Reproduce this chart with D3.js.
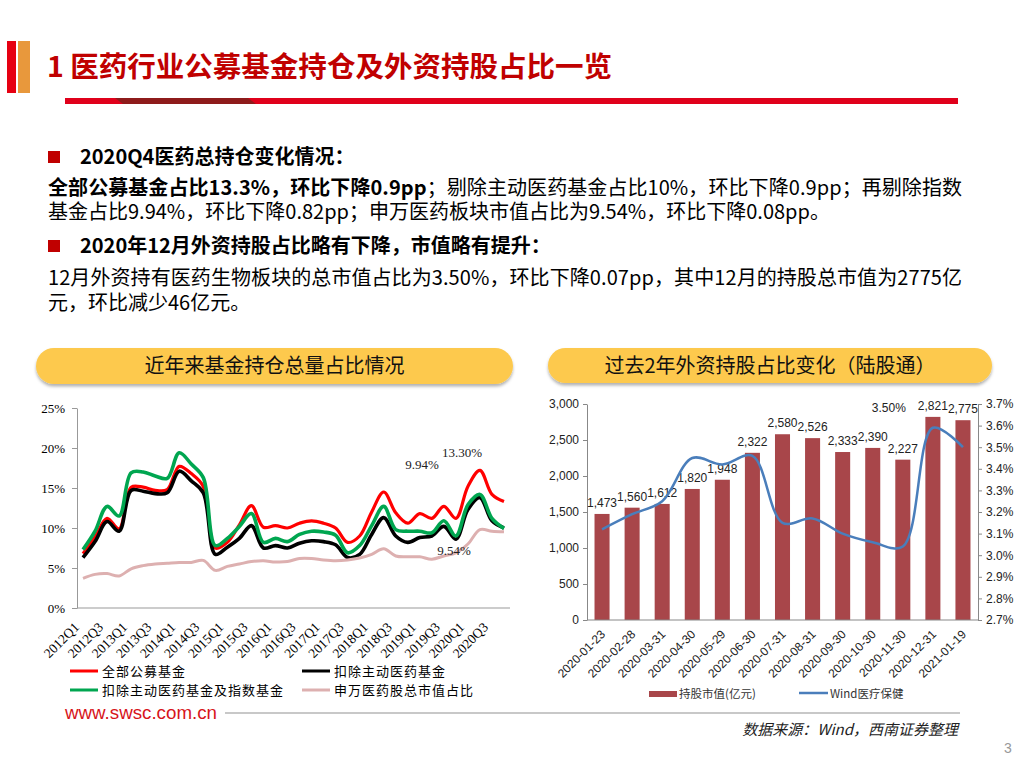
<!DOCTYPE html>
<html>
<head>
<meta charset="utf-8">
<script src="https://cdn.jsdelivr.net/npm/d3@7"></script>
<style>
  body { margin: 0; background: #fff; }
  svg { display: block; font-family: "Noto Sans CJK SC", "Noto Sans", sans-serif; }
</style>
</head>
<body>
<svg id="slide" width="1024" height="768"></svg>
<script>
// ---- left chart data (percent of holdings) ----
const quarters = ["2012Q1","2012Q2","2012Q3","2012Q4","2013Q1","2013Q2","2013Q3","2013Q4",
  "2014Q1","2014Q2","2014Q3","2014Q4","2015Q1","2015Q2","2015Q3","2015Q4",
  "2016Q1","2016Q2","2016Q3","2016Q4","2017Q1","2017Q2","2017Q3","2017Q4",
  "2018Q1","2018Q2","2018Q3","2018Q4","2019Q1","2019Q2","2019Q3","2019Q4",
  "2020Q1","2020Q2","2020Q3","2020Q4"];
const allFunds = [6.8,8.9,11.2,9.9,15.1,15.1,14.7,14.8,17.7,16.8,15.2,7.5,8.2,10.4,12.8,10.1,
  10.3,10.0,10.6,10.9,10.6,10.0,8.2,9.0,12.0,14.5,11.9,10.6,11.8,11.2,12.7,11.2,15.2,17.2,14.2,13.3];
const exActive = [6.3,8.3,10.8,9.6,14.7,14.6,14.3,14.4,17.1,15.9,14.4,6.7,7.6,8.7,10.3,7.5,
  7.8,7.5,8.1,8.4,8.3,7.9,6.3,6.7,9.2,11.3,9.0,8.2,8.8,9.0,10.2,8.6,12.3,13.8,10.9,10.0];
const exActiveIndex = [7.3,9.6,12.7,11.5,16.9,17.0,16.5,16.2,19.4,18.0,16.3,7.8,8.7,10.2,11.8,8.2,
  8.7,8.3,9.2,9.6,9.5,9.1,6.9,7.8,10.3,12.7,9.8,9.6,9.6,9.4,10.9,9.0,12.9,14.2,11.2,9.94];
const swPharma = [3.7,4.2,4.3,4.0,4.9,5.3,5.5,5.6,5.7,5.7,5.95,4.7,5.2,5.5,5.8,5.9,
  5.75,5.8,6.2,6.2,6.0,5.9,6.0,6.25,6.7,7.4,6.5,6.4,6.4,6.1,6.5,6.9,8.0,9.8,9.6,9.54];
const leftTicks = [0, 5, 10, 15, 20, 25];
const leftLabelQuarters = quarters.filter((q, i) => i % 2 === 0);

// ---- right chart data ----
const dates = ["2020-01-23","2020-02-28","2020-03-31","2020-04-30","2020-05-29","2020-06-30",
  "2020-07-31","2020-08-31","2020-09-30","2020-10-30","2020-11-30","2020-12-31","2021-01-19"];
const holdValue = [1473,1560,1612,1820,1948,2322,2580,2526,2333,2390,2227,2821,2775];
const windHealth = [3.12,3.19,3.25,3.45,3.42,3.46,3.15,3.17,3.10,3.06,3.04,3.59,3.50];
const valueTicks = [0,500,1000,1500,2000,2500,3000];
const pctTicks = [2.7,2.8,2.9,3.0,3.1,3.2,3.3,3.4,3.5,3.6,3.7];

const svg = d3.select("#slide");
const defs = svg.append("defs");
const sh = defs.append("filter").attr("id", "sh")
  .attr("x", "-5%").attr("y", "-30%").attr("width", "110%").attr("height", "180%");
sh.append("feDropShadow").attr("dx", 0).attr("dy", 2.5).attr("stdDeviation", 1.5)
  .attr("flood-color", "#000").attr("flood-opacity", 0.3);

// ---- slide header ----
svg.append("rect").attr("x", 7).attr("y", 41).attr("width", 9).attr("height", 52).attr("fill", "#E60012");
svg.append("rect").attr("x", 18).attr("y", 41).attr("width", 12).attr("height", 52).attr("fill", "#E8983C");
svg.append("text").attr("x", 47).attr("y", 77)
  .attr("font-size", 28).attr("font-weight", "bold").attr("fill", "#C00000")
  .attr("textLength", 565).attr("lengthAdjust", "spacingAndGlyphs")
  .text("1 医药行业公募基金持仓及外资持股占比一览");
svg.append("rect").attr("x", 65).attr("y", 98).attr("width", 893).attr("height", 6).attr("fill", "#E0001B");
svg.append("polygon").attr("points", "115,98 248,98 256,104 123,104").attr("fill", "#8E1B1B");

// ---- text block ----
function bullet(y) {
  svg.append("rect").attr("x", 48).attr("y", y - 6).attr("width", 12).attr("height", 12).attr("fill", "#C00000");
}
bullet(157);
svg.append("text").attr("x", 80).attr("y", 157).attr("dy", "0.36em")
  .attr("font-size", 20).attr("font-weight", "bold").text("2020Q4医药总持仓变化情况：");

const l2 = svg.append("text").attr("x", 48).attr("y", 188).attr("dy", "0.36em").attr("font-size", 20);
l2.append("tspan").attr("font-weight", "bold").text("全部公募基金占比13.3%，环比下降0.9pp");
l2.append("tspan").text("；剔除主动医药基金占比10%，环比下降0.9pp；再剔除指数");

svg.append("text").attr("x", 48).attr("y", 212).attr("dy", "0.36em").attr("font-size", 20)
  .text("基金占比9.94%，环比下降0.82pp；申万医药板块市值占比为9.54%，环比下降0.08pp。");

bullet(246);
svg.append("text").attr("x", 80).attr("y", 246).attr("dy", "0.36em")
  .attr("font-size", 20).attr("font-weight", "bold").text("2020年12月外资持股占比略有下降，市值略有提升：");

const l5 = svg.append("text").attr("x", 48).attr("y", 278).attr("dy", "0.36em").attr("font-size", 20)
  .text("12月外资持有医药生物板块的总市值占比为3.50%，环比下降0.07pp，其中12月的持股总市值为2775亿");
svg.append("text").attr("x", 48).attr("y", 303).attr("dy", "0.36em").attr("font-size", 20)
  .text("元，环比减少46亿元。");
[l2, l5].forEach(t => t.attr("textLength", 914).attr("lengthAdjust", "spacing"));

// ---- banners ----
function banner(x0, x1, y0, y1, label) {
  svg.append("rect").attr("x", x0).attr("y", y0).attr("width", x1 - x0).attr("height", y1 - y0)
    .attr("rx", (y1 - y0) / 2).attr("fill", "#FDC94D").attr("filter", "url(#sh)");
  svg.append("text").attr("x", (x0 + x1) / 2).attr("y", (y0 + y1) / 2).attr("dy", "0.36em")
    .attr("text-anchor", "middle").attr("font-size", 20).attr("fill", "#111").text(label);
}
banner(36, 513, 348, 384, "近年来基金持仓总量占比情况");
banner(548, 992, 348, 383, "过去2年外资持股占比变化（陆股通）");

// ---- left chart ----
const serif = "'Liberation Serif', 'Times New Roman', serif";
const lx = d3.scaleBand().domain(quarters).range([77, 510]);
const lcx = q => lx(q) + lx.bandwidth() / 2;
const ly = d3.scaleLinear().domain([0, 25]).range([608, 408]);

const yAxL = svg.append("g").attr("transform", "translate(77,0)")
  .call(d3.axisLeft(ly).tickValues(leftTicks).tickFormat(d => d + "%").tickSize(5).tickSizeOuter(0).tickPadding(7));
yAxL.selectAll("path,line").attr("stroke", "#999");
yAxL.selectAll("text").attr("font-family", serif).attr("font-size", 13).attr("fill", "#000");

svg.append("line").attr("x1", 77).attr("x2", 510).attr("y1", ly(0)).attr("y2", ly(0)).attr("stroke", "#999");
svg.append("g").selectAll("text").data(leftLabelQuarters).join("text")
  .attr("transform", d => `translate(${lcx(d) - 3},628) rotate(-45)`)
  .attr("text-anchor", "end").attr("font-family", serif).attr("font-size", 13.5).attr("fill", "#000")
  .text(d => d);

const qLine = d3.line().x((d, i) => lcx(quarters[i])).y(d => ly(d)).curve(d3.curveCatmullRom.alpha(0.5));
const leftSeries = [
  { name: "全部公募基金", values: allFunds, color: "#FF0000", w: 3.2 },
  { name: "扣除主动医药基金", values: exActive, color: "#000000", w: 3.6 },
  { name: "扣除主动医药基金及指数基金", values: exActiveIndex, color: "#00A650", w: 3.6 },
  { name: "申万医药股总市值占比", values: swPharma, color: "#DDB0B0", w: 3 }
];
svg.append("g").selectAll("path").data(leftSeries).join("path")
  .attr("d", s => qLine(s.values)).attr("fill", "none")
  .attr("stroke", s => s.color).attr("stroke-width", s => s.w).attr("stroke-linejoin", "round");

const last = quarters[quarters.length - 1];
function note(x, y, t) {
  svg.append("text").attr("x", x).attr("y", y).attr("dy", "0.35em").attr("text-anchor", "middle")
    .attr("font-family", serif).attr("font-size", 13).attr("fill", "#222").text(t);
}
note(lcx(last) - 42, ly(19.4), "13.30%");
note(lcx(last) - 82, ly(17.9), "9.94%");
note(lcx(last) - 50, ly(7.2), "9.54%");

// legend left
const legL = [
  { s: leftSeries[0], x: 70, y: 671 }, { s: leftSeries[1], x: 302, y: 671 },
  { s: leftSeries[2], x: 70, y: 690 }, { s: leftSeries[3], x: 302, y: 690 }
];
legL.forEach(d => {
  svg.append("line").attr("x1", d.x).attr("x2", d.x + 28).attr("y1", d.y).attr("y2", d.y)
    .attr("stroke", d.s.color).attr("stroke-width", 3);
  svg.append("text").attr("x", d.x + 32).attr("y", d.y).attr("dy", "0.36em")
    .attr("font-size", 13).attr("letter-spacing", 1).attr("fill", "#000").text(d.s.name);
});

// ---- right chart ----
const arial = "'Liberation Sans', Arial, sans-serif";
const rx = d3.scaleBand().domain(dates).range([587, 978]).paddingInner(0.5).paddingOuter(0.25);
const rcx = d => rx(d) + rx.bandwidth() / 2;
const ry = d3.scaleLinear().domain([0, 3000]).range([620, 404]);
const ry2 = d3.scaleLinear().domain([2.7, 3.7]).range([620, 404]);

const axR1 = svg.append("g").attr("transform", "translate(587,0)")
  .call(d3.axisLeft(ry).tickValues(valueTicks).tickFormat(d3.format(",")).tickSize(4).tickSizeOuter(0).tickPadding(4));
const axR2 = svg.append("g").attr("transform", "translate(978,0)")
  .call(d3.axisRight(ry2).tickValues(pctTicks).tickFormat(d => d.toFixed(1) + "%").tickSize(4).tickSizeOuter(0).tickPadding(4));
[axR1, axR2].forEach(a => {
  a.selectAll("path,line").attr("stroke", "#888");
  a.selectAll("text").attr("font-family", arial).attr("font-size", 12).attr("fill", "#222");
});

svg.append("g").selectAll("rect").data(dates).join("rect")
  .attr("x", d => rx(d)).attr("width", rx.bandwidth())
  .attr("y", (d, i) => ry(holdValue[i])).attr("height", (d, i) => ry(0) - ry(holdValue[i]))
  .attr("fill", "#A8464A");
svg.append("line").attr("x1", 587).attr("x2", 978).attr("y1", ry(0)).attr("y2", ry(0)).attr("stroke", "#888");

svg.append("g").selectAll("text").data(dates).join("text")
  .attr("x", d => rcx(d)).attr("y", (d, i) => ry(holdValue[i]) - 7)
  .attr("text-anchor", "middle").attr("font-family", arial).attr("font-size", 12).attr("fill", "#222")
  .text((d, i) => d3.format(",")(holdValue[i]));

const dLine = d3.line().x((d, i) => rcx(dates[i])).y(d => ry2(d)).curve(d3.curveCatmullRom.alpha(0.5));
svg.append("path").attr("d", dLine(windHealth)).attr("fill", "none")
  .attr("stroke", "#4A7EBB").attr("stroke-width", 2.5);

svg.append("text").attr("x", rcx(dates[10]) - 14).attr("y", ry2(3.7) + 4).attr("dy", "0.35em")
  .attr("text-anchor", "middle").attr("font-family", arial).attr("font-size", 12).attr("fill", "#222")
  .text(windHealth[windHealth.length - 1].toFixed(2) + "%");

svg.append("g").selectAll("text").data(dates).join("text")
  .attr("transform", d => `translate(${rcx(d) + 4},635) rotate(-45)`)
  .attr("text-anchor", "end").attr("font-family", arial).attr("font-size", 12).attr("fill", "#222")
  .text(d => d);

// legend right
svg.append("rect").attr("x", 649).attr("y", 691).attr("width", 28).attr("height", 6).attr("fill", "#A8464A");
svg.append("text").attr("x", 679).attr("y", 694).attr("dy", "0.36em").attr("font-size", 11.5).attr("fill", "#333")
  .text("持股市值(亿元)");
svg.append("line").attr("x1", 799).attr("x2", 828).attr("y1", 693).attr("y2", 693)
  .attr("stroke", "#4A7EBB").attr("stroke-width", 2.5);
svg.append("text").attr("x", 830).attr("y", 694).attr("dy", "0.36em").attr("font-size", 11.5).attr("fill", "#333")
  .text("Wind医疗保健");

// ---- footer ----
svg.append("text").attr("x", 65).attr("y", 713).attr("dy", "0.36em")
  .attr("font-family", arial).attr("font-size", 18).attr("fill", "#D7141A")
  .attr("textLength", 152).attr("lengthAdjust", "spacingAndGlyphs").text("www.swsc.com.cn");
svg.append("line").attr("x1", 225).attr("x2", 960).attr("y1", 713).attr("y2", 713)
  .attr("stroke", "#C8C8C8").attr("stroke-width", 2);
svg.append("text").attr("x", 958).attr("y", 730).attr("dy", "0.36em").attr("text-anchor", "end")
  .attr("font-size", 15).attr("font-style", "italic").attr("fill", "#222")
  .text("数据来源：Wind，西南证券整理");
svg.append("text").attr("x", 1004).attr("y", 748).attr("dy", "0.36em")
  .attr("font-family", arial).attr("font-size", 14).attr("fill", "#999").text("3");
</script>
</body>
</html>
